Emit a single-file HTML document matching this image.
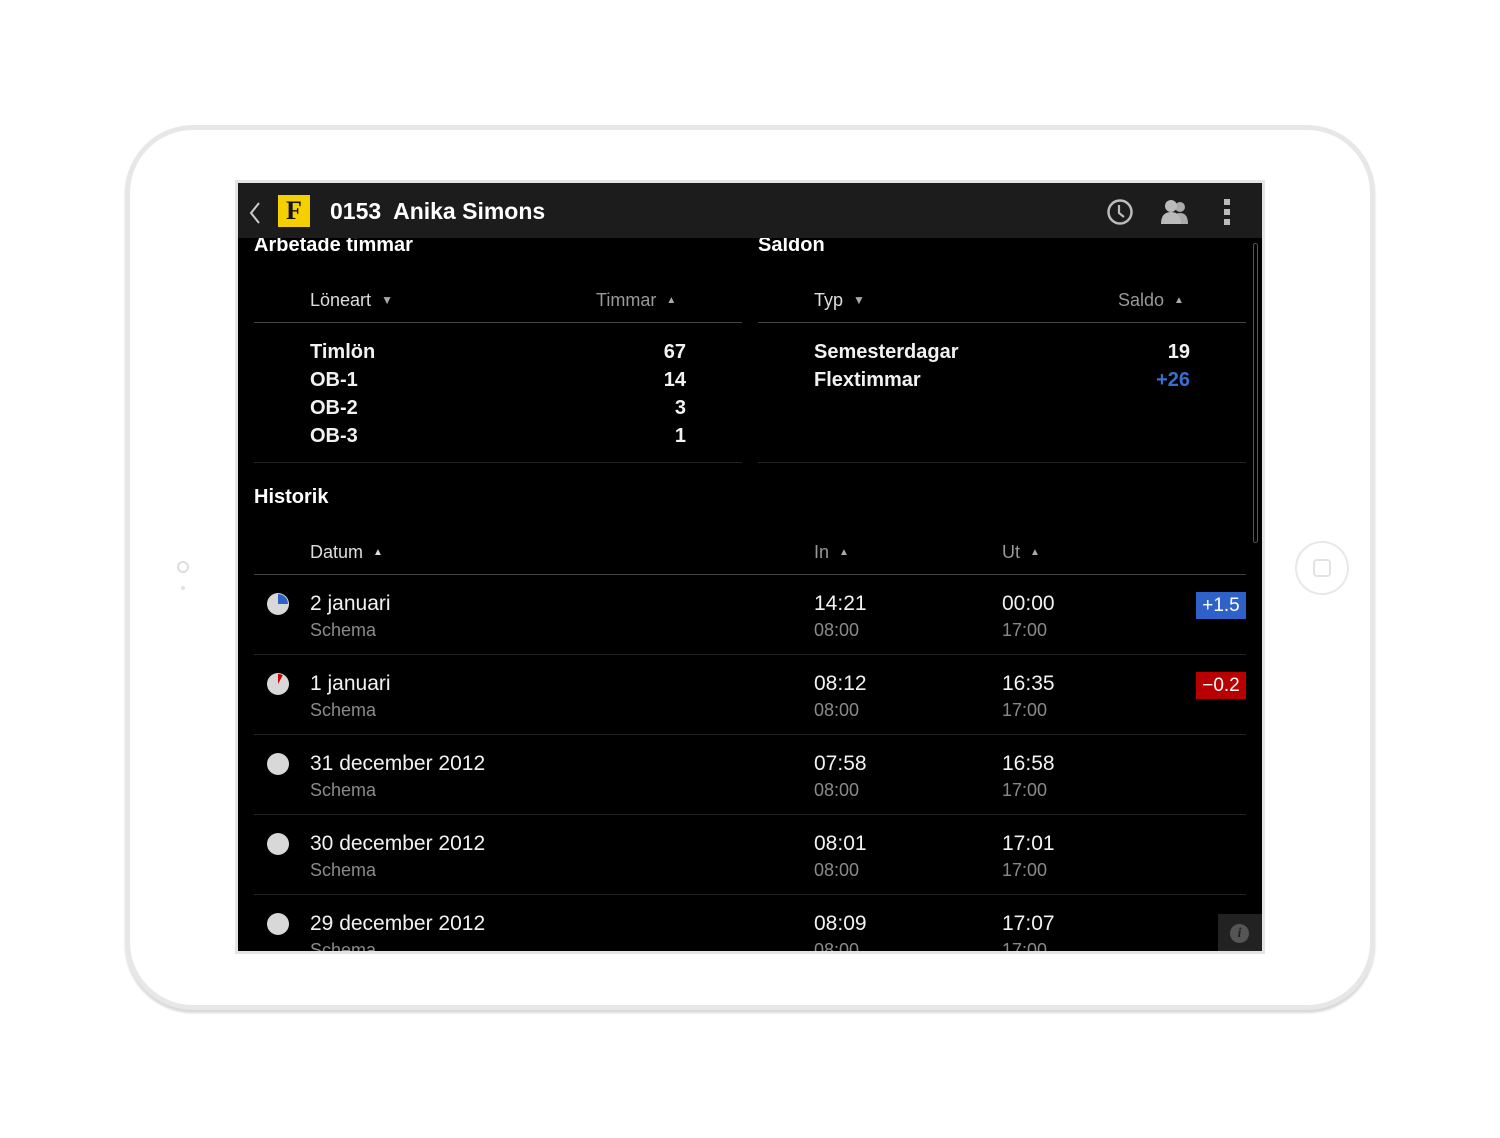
<!DOCTYPE html>
<html><head><meta charset="utf-8"><style>
*{margin:0;padding:0;box-sizing:border-box}
body{width:1500px;height:1138px;background:#fff;position:relative;overflow:hidden;font-family:"Liberation Sans",sans-serif}
.abs{position:absolute;white-space:nowrap;line-height:28px}
#device{position:absolute;left:125px;top:125px;width:1250px;height:885px;border:5px solid #e7e7e7;border-radius:68px;background:#fff;box-shadow:0 3px 2px #d8d8d8}
#screen{position:absolute;left:235px;top:180px;width:1030px;height:774px;border:3px solid #e4e4e4;background:#000;overflow:hidden}
#hdr{position:absolute;left:0;top:0;width:1024px;height:55px;background:#1c1c1c;z-index:2}
.t{color:#fff}
.h{color:#ccc;font-size:18px}
.b{font-weight:bold;font-size:20px;color:#f2f2f2}
.n{font-size:21px;color:#f2f2f2}
.s{font-size:18px;color:#8a8a8a}
.line{position:absolute;height:1px;background:#333}
.tri{font-size:12px;color:#aaa;vertical-align:2px}
.up{font-size:10px;vertical-align:3px}
.badge{position:absolute;width:50px;height:28px;color:#fff;font-size:19px;text-align:center;line-height:28px}
</style></head><body>
<div id="device"></div>
<div class="abs" style="left:177px;top:561px;width:12px;height:12px;border:2px solid #ddd;border-radius:50%"></div>
<div class="abs" style="left:181px;top:586px;width:4px;height:4px;background:#e2e2e2;border-radius:50%"></div>
<div class="abs" style="left:1295px;top:541px;width:54px;height:54px;border:2px solid #e8e8e8;border-radius:50%"><div style="position:absolute;left:16px;top:16px;width:18px;height:18px;border:2px solid #e2e2e2;border-radius:4px"></div></div>

<div id="screen">
 <div id="hdr">
  <svg class="abs" style="left:10px;top:18px" width="14" height="24"><path d="M11 2 L3 12 L11 22" stroke="#ccc" stroke-width="2" fill="none"/></svg>
  <div class="abs" style="left:40px;top:12px;width:32px;height:32px;background:#f5d000;color:#111;font-family:'Liberation Serif',serif;font-weight:bold;font-size:26px;text-align:center;line-height:32px">F</div>
  <div class="abs" style="left:92px;top:14px;font-size:23px;color:#fff;font-weight:bold">0153&nbsp; Anika Simons</div>
  <svg class="abs" style="left:868px;top:15px" width="28" height="28"><circle cx="14" cy="14" r="11.5" stroke="#bbb" stroke-width="2.5" fill="none"/><path d="M13 7 V15 L18 19" stroke="#bbb" stroke-width="2.2" fill="none"/></svg>
  <svg class="abs" style="left:922px;top:16px" width="32" height="26"><circle cx="20" cy="8" r="5" fill="#aaa"/><path d="M12 25 Q12 14 20 14 Q28 14 28 25Z" fill="#aaa"/><circle cx="11" cy="7" r="6" fill="#bbb"/><path d="M1 25 Q1 13 11 13 Q21 13 21 25Z" fill="#bbb"/></svg>
  <div style="position:absolute;left:986px;top:16px;width:6px;height:26px;background:repeating-linear-gradient(#bbb 0 6px,transparent 6px 10px)"></div>
 </div>
 <div class="abs t" style="left:16px;top:48px;font-size:20px;font-weight:bold">Arbetade timmar</div>
 <div class="abs t" style="left:520px;top:48px;font-size:20px;font-weight:bold">Saldon</div>
 <div style="position:absolute;left:1015px;top:60px;width:5px;height:300px;border:1px solid #555;border-radius:3px"></div>

 <div class="abs h" style="left:72px;top:103px;color:#ddd">Löneart &nbsp;<span class="tri">▼</span></div>
 <div class="abs h" style="left:358px;top:103px;color:#999">Timmar &nbsp;<span class="tri up">▲</span></div>
 <div class="abs h" style="left:576px;top:103px;color:#ddd">Typ &nbsp;<span class="tri">▼</span></div>
 <div class="abs h" style="left:880px;top:103px;color:#999">Saldo &nbsp;<span class="tri up">▲</span></div>
 <div class="line" style="left:16px;top:139px;width:488px;background:#444"></div>
 <div class="line" style="left:520px;top:139px;width:488px;background:#444"></div>

 <div class="abs b" style="left:72px;top:155px;line-height:28px">Timlön<br>OB-1<br>OB-2<br>OB-3</div>
 <div class="abs b" style="left:400px;width:48px;text-align:right;top:155px">67<br>14<br>3<br>1</div>
 <div class="abs b" style="left:576px;top:155px">Semesterdagar<br>Flextimmar</div>
 <div class="abs b" style="left:900px;width:52px;text-align:right;top:155px">19<br><span style="color:#3a6fd0">+26</span></div>
 <div class="line" style="left:16px;top:279px;width:488px;background:#222"></div>
 <div class="line" style="left:520px;top:279px;width:488px;background:#222"></div>

 <div class="abs t" style="left:16px;top:300px;font-size:20px;font-weight:bold">Historik</div>
 <div class="abs h" style="left:72px;top:355px;color:#ddd">Datum &nbsp;<span class="tri up" style="color:#ddd">▲</span></div>
 <div class="abs h" style="left:576px;top:355px;color:#999">In &nbsp;<span class="tri up">▲</span></div>
 <div class="abs h" style="left:764px;top:355px;color:#999">Ut &nbsp;<span class="tri up">▲</span></div>
 <div class="line" style="left:16px;top:391px;width:992px;background:#444"></div>
 <div id="rows"></div>
 <div style="position:absolute;left:980px;top:731px;width:44px;height:40px;background:#222"><div style="position:absolute;left:12px;top:10px;width:19px;height:19px;border-radius:50%;background:#555;color:#222;font-family:'Liberation Serif',serif;font-style:italic;font-weight:bold;font-size:14px;text-align:center;line-height:19px">i</div></div>
</div>
<script>
const dates=["2 januari","1 januari","31 december 2012","30 december 2012","29 december 2012"];
const ins=["14:21","08:12","07:58","08:01","08:09"];
const outs=["00:00","16:35","16:58","17:01","17:07"];
const deltas=["+1.5","−0.2","","",""];
const pieFrac=[0.25,0.08,0,0,0];
const rows=document.getElementById('rows');
dates.forEach((d,i)=>{
 const y=392+i*80;
 const r=document.createElement('div');
 
 
 r.style.cssText=`position:absolute;left:0;top:${y}px;width:1024px;height:80px`;
 const f=pieFrac[i];let pie='';
 if(f>0){const a=f*2*Math.PI;const x=12+10*Math.sin(a),yy=12-10*Math.cos(a);
  pie=`<path d="M12 12 L12 2 A10 10 0 ${f>0.5?1:0} 1 ${x} ${yy}Z" fill="${deltas[i].startsWith('+')?'#2f62c8':'#c00'}"/>`;}
 r.innerHTML=`<svg style="position:absolute;left:28px;top:17px" width="24" height="24"><circle cx="12" cy="12" r="11" fill="#d8d8d8"/>${pie}</svg>
 <div class="abs n" style="left:72px;top:15px">${d}</div><div class="abs s" style="left:72px;top:41px">Schema</div>
 <div class="abs n" style="left:576px;top:15px">${ins[i]}</div><div class="abs s" style="left:576px;top:41px">08:00</div>
 <div class="abs n" style="left:764px;top:15px">${outs[i]}</div><div class="abs s" style="left:764px;top:41px">17:00</div>
 ${deltas[i]?`<div class="badge" style="left:958px;top:17px;height:27px;line-height:27px;background:${deltas[i].startsWith('+')?'#2f62c8':'#b80000'}">${deltas[i]}</div>`:''}
 ${i<4?'<div class="line" style="left:16px;top:79px;width:992px;background:#222"></div>':''}`;
 rows.appendChild(r);
});
</script>
</body></html>
